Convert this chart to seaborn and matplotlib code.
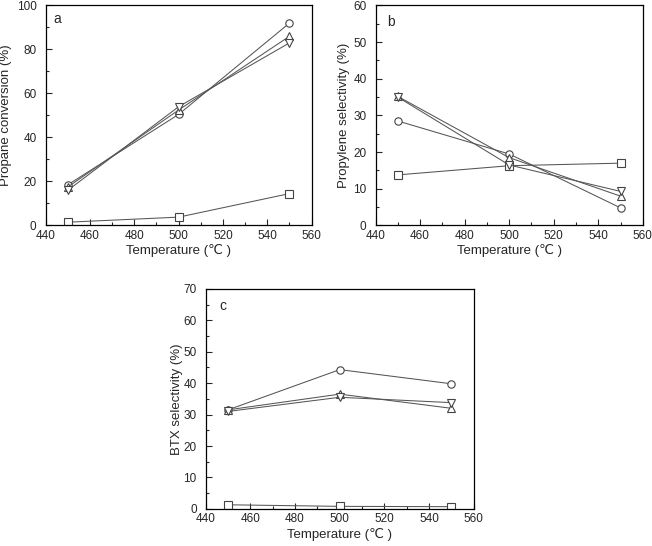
import matplotlib
matplotlib.use("Agg")
import matplotlib.pyplot as plt
import seaborn as sns
from matplotlib.ticker import MultipleLocator

sns.set_style("ticks")
plt.rcParams['font.family'] = ['Liberation Sans', 'DejaVu Sans']

# Data
temps = [450, 500, 550]

conv_circle = [18.5, 50.5, 92.0]
conv_up = [17.5, 52.5, 86.0]
conv_down = [16.0, 54.0, 83.0]
conv_square = [1.5, 3.8, 14.5]

prop_circle = [28.5, 19.5, 4.8]
prop_up = [35.2, 18.5, 8.0]
prop_down = [35.0, 16.5, 9.3]
prop_square = [13.8, 16.3, 17.0]

btx_circle = [31.5, 44.3, 39.8]
btx_up = [31.5, 36.5, 32.0]
btx_down = [31.0, 35.5, 33.8]
btx_square = [1.3, 0.8, 0.7]

markers = ["s", "o", "^", "v"]

panels = [
    ("a", "Propane conversion (%)", 100, 20, [conv_square, conv_circle, conv_up, conv_down]),
    ("b", "Propylene selectivity (%)", 60, 10, [prop_square, prop_circle, prop_up, prop_down]),
    ("c", "BTX selectivity (%)", 70, 10, [btx_square, btx_circle, btx_up, btx_down]),
]

fig = plt.figure(figsize=(6.52, 5.46), dpi=100)
rects = [
    [0.070, 0.587, 0.408, 0.403],
    [0.576, 0.587, 0.410, 0.403],
    [0.3155, 0.068, 0.411, 0.403],
]
ylabel_x = [-0.125, -0.095, -0.085]
letter_pos = [(0.03, 0.97), (0.045, 0.955), (0.05, 0.955)]

for i, (rect, (label, ylabel, ymax, ystep, series)) in enumerate(zip(rects, panels)):
    ax = fig.add_axes(rect)
    for vals, m in zip(series, markers):
        sns.lineplot(x=temps, y=vals, ax=ax, color="#555555", linewidth=0.75,
                     marker=m, markersize=5.3, markerfacecolor="white",
                     markeredgecolor="#444444", markeredgewidth=0.8)
    ax.set_xlim(440, 560)
    ax.set_ylim(0, ymax)
    ax.xaxis.set_major_locator(MultipleLocator(20))
    ax.xaxis.set_minor_locator(MultipleLocator(10))
    ax.yaxis.set_major_locator(MultipleLocator(ystep))
    ax.yaxis.set_minor_locator(MultipleLocator(ystep / 2))
    ax.tick_params(which="both", direction="in", top=False, right=False,
                   labelsize=8.5, width=0.8)
    ax.tick_params(which="major", length=4)
    ax.tick_params(which="minor", length=2.5)
    ax.tick_params(axis="x", pad=3)
    ax.tick_params(axis="y", pad=6.5)
    for s in ax.spines.values():
        s.set_linewidth(0.9)
        s.set_color("black")
    ax.set_xlabel("Temperature (℃ )", fontsize=9.5)
    ax.set_ylabel(ylabel, fontsize=9.5)
    ax.xaxis.set_label_coords(0.5, -0.085)
    ax.yaxis.set_label_coords(ylabel_x[i], 0.5)
    ax.text(letter_pos[i][0], letter_pos[i][1], label, transform=ax.transAxes,
            fontsize=10, va="top", ha="left")

fig.savefig("out.png", dpi=100)
